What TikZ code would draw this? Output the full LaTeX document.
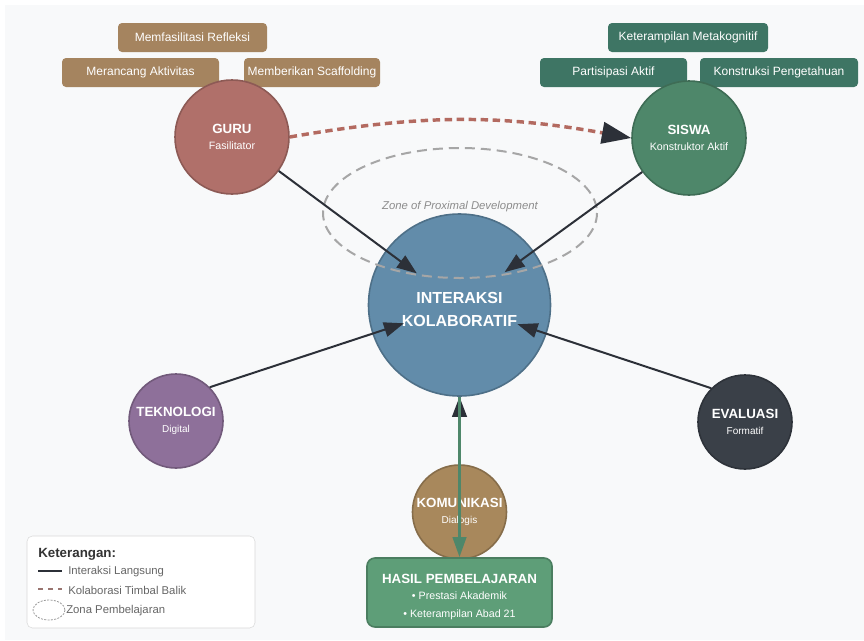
\documentclass[tikz,border=0pt]{standalone}
\usepackage{fontspec}
\setmainfont{Liberation Sans}
\usetikzlibrary{arrows.meta}
\definecolor{bg}{HTML}{F8F9FA}
\definecolor{guruc}{HTML}{B0706A}
\definecolor{siswac}{HTML}{4E876A}
\definecolor{interc}{HTML}{628CAA}
\definecolor{teknoc}{HTML}{8E709A}
\definecolor{evaluc}{HTML}{3A4048}
\definecolor{komunc}{HTML}{A8885C}
\definecolor{hasilc}{HTML}{5E9E78}
\definecolor{tanc}{HTML}{A5845F}
\definecolor{tealc}{HTML}{3E7564}
\definecolor{ink}{HTML}{2C3038}
\definecolor{collabc}{HTML}{B36A60}
\newcommand{\setfs}[1]{\fontsize{#1}{#1}\selectfont}

\begin{document}
\begin{tikzpicture}[x=0.75pt,y=-0.75pt,
  actor/.style={circle,draw=#1!80!black,line width=1.2pt,fill=#1,text=white,
    align=center,inner sep=0pt,minimum size=85.5pt},
  minor/.style={actor=#1,minimum size=70.5pt},
  tag/.style={rounded corners=3pt,fill=#1,text=white,inner sep=0pt,
    minimum height=21.75pt,font=\setfs{9}},
  link/.style={draw=ink,line width=1.5pt,-{Triangle[length=15pt,width=11pt]}},
  collab/.style={draw=collabc,line width=2.6pt,dash pattern=on 5.5pt off 3.5pt,
    -{Triangle[length=22pt,width=16pt,color=ink]}},
  result/.style={draw=siswac,line width=2.2pt,-{Triangle[length=15pt,width=10pt]}},
  zone/.style={draw=black!35,line width=1.5pt,dash pattern=on 7.5pt off 4.5pt},
  legtext/.style={anchor=west,inner sep=0pt,text=black!60,font=\setfs{8.5}}]

\fill[white] (0,0) rectangle (864,640);
\fill[bg] (5,5) rectangle (864,640);
\useasboundingbox (0,0) rectangle (864,640);

\foreach \n/\x/\y/\w/\t in {refl/192.5/37.5/149/Memfasilitasi Refleksi,
    akti/140.5/72.5/157/Merancang Aktivitas,
    scaf/312/72.5/136/Memberikan Scaffolding}
  \node[tag=tanc,minimum width=\w*0.75pt] (\n) at (\x,\y) {\t};
\foreach \n/\x/\y/\w/\t in {meta/688/37.5/160/Keterampilan Metakognitif,
    part/613.5/72.5/147/Partisipasi Aktif,
    kons/779/72.5/158/Konstruksi Pengetahuan}
  \node[tag=tealc,minimum width=\w*0.75pt] (\n) at (\x,\y) {\t};

\node[actor=guruc] (guru) at (232,137)
  {{\setfs{10}\bfseries GURU}\\[0.5pt]{\setfs{8}Fasilitator}};
\node[actor=siswac] (siswa) at (689,138)
  {{\setfs{10}\bfseries SISWA}\\[0.5pt]{\setfs{8}Konstruktor Aktif}};
\node[actor=interc,draw=interc!80!black,minimum size=136.5pt] (inter) at (459.5,305)
  {{}\\[3pt]{\setfs{12}\bfseries INTERAKSI}\\[5pt]{\setfs{12}\bfseries KOLABORATIF}};
\node[minor=teknoc] (tekno) at (176,421)
  {{\setfs{10}\bfseries TEKNOLOGI}\\[0.5pt]{\setfs{7.5}Digital}};
\node[minor=evaluc] (evalu) at (745,422)
  {{\setfs{10}\bfseries EVALUASI}\\[0.5pt]{\setfs{7.5}Formatif}};
\node[minor=komunc] (komun) at (459.5,512)
  {{\setfs{10}\bfseries KOMUNIKASI}\\[0.5pt]{\setfs{7.5}Dialogis}};
\node[rounded corners=6pt,draw=hasilc!80!black,line width=1.2pt,fill=hasilc,
  text=white,align=center,inner sep=0pt,minimum width=138.75pt,
  minimum height=51.75pt] (hasil) at (459.5,592.5)
  {{}\\[1.5pt]{\setfs{10}\bfseries HASIL PEMBELAJARAN}\\[0pt]{\setfs{8}\textbullet\ Prestasi Akademik}\\[1.5pt]
   {\setfs{8}\textbullet\ Keterampilan Abad 21}};

\draw[zone] (460,213) ellipse [x radius=137,y radius=65];
\node[text=black!45,font=\itshape\setfs{8.5}] (zpd) at (460,207) {Zone of Proximal Development};

\draw[collab] (guru.east) to[bend left=10] (siswa.west);
\draw[link,shorten >=-29pt] (guru.-36) -- (inter);
\draw[link,shorten >=-27pt] (siswa.216) -- (inter);
\draw[link,shorten >=-25pt] (tekno.north east) -- (inter);
\draw[link,shorten >=-23pt] (evalu.north west) -- (inter);
\draw[link] (komun) -- (inter);
\draw[result] (inter) -- (hasil);

\node[draw=black!15,fill=white,rounded corners=4pt,minimum width=171pt,
  minimum height=69pt] (legend) at (141,582) {};
\node[anchor=west,inner sep=0pt,text=black!80,font=\bfseries\setfs{10}] (legtitle) at (38,554) {Keterangan:};
\coordinate (sa) at (38,571); \coordinate (sb) at (62,571);
\draw[ink,line width=1.5pt] (sa) -- (sb);
\node[legtext] (ltsolid) at (68,572) {Interaksi Langsung};
\coordinate (da) at (38,589); \coordinate (db) at (62,589);
\draw[collabc!50!gray,line width=1.5pt,dash pattern=on 4pt off 3.5pt] (da) -- (db);
\node[legtext] (ltdash) at (68,590) {Kolaborasi Timbal Balik};
\draw[black!40,line width=0.6pt,dash pattern=on 1.5pt off 1pt] (49,610) ellipse [x radius=16,y radius=10];
\node[legtext] (ltzone) at (66,611) {Zona Pembelajaran};
\end{tikzpicture}
\end{document}
